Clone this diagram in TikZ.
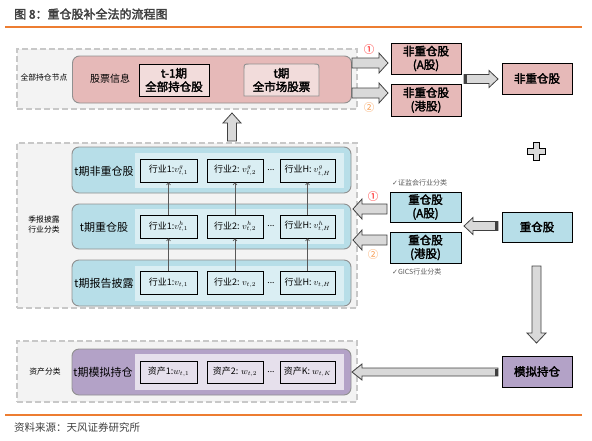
\documentclass[tikz,border=0pt]{standalone}
\usepackage{fontspec}
\setmainfont{Noto Sans CJK SC}[AutoFakeBold=2.5]
\newfontfamily\symfont{DejaVu Sans}
\usetikzlibrary{calc,arrows.meta}
\definecolor{orangeline}{HTML}{ED7D31}
\definecolor{titlegray}{HTML}{404040}
\definecolor{dashgray}{HTML}{C8C8C8}
\definecolor{boxbg}{HTML}{F3F3F3}
\definecolor{pinkfill}{HTML}{E6B9B8}
\definecolor{pinklight}{HTML}{F2DCDB}
\definecolor{bluefill}{HTML}{B7DEE8}
\definecolor{bluelight}{HTML}{DAEEF3}
\definecolor{purplefill}{HTML}{B3A2C7}
\definecolor{purplelight}{HTML}{E6E0EC}
\definecolor{rowborder}{HTML}{909090}
\definecolor{arrowfill}{HTML}{D9D9D9}
\definecolor{arrowline}{HTML}{404040}
\definecolor{circred}{HTML}{FF0000}
\definecolor{circorange}{HTML}{F79646}
\definecolor{notegray}{HTML}{595959}
\newcommand{\blockarrow}[5]{%
  \coordinate (bah) at ($(#2)!#5!(#1)$);
  \draw[barrowstyle] ($(#1)!#3!90:(#2)$) -- ($(bah)!#3!90:(#2)$) -- ($(bah)!#4!90:(#2)$) -- (#2)
    -- ($(bah)!#4!-90:(#2)$) -- ($(bah)!#3!-90:(#2)$) -- ($(#1)!#3!-90:(#2)$) -- cycle;}
\newcommand{\tailcap}[3]{\draw[line width=#3, draw=arrowline] (#1) -- ($(#1)!3pt!(#2)$);}
\newcommand{\cellrow}[3]{%
  \node[cell] (#1a) at (168.5,#2) {行业1:$v#3_{t,1}$};
  \node[cell, minimum width=56pt] (#1b) at (235,#2) {行业2: $v#3_{t,2}$};
  \node[cell, minimum width=55pt] (#1c) at (307.5,#2) {行业H: $v#3_{t,H}$};
  \node[font=\fontsize{8.5}{10}\selectfont] (#1d) at (271,#2) {...};}
\begin{document}
\begin{tikzpicture}[x=1pt,y=-1pt,
  outerbox/.style={draw=dashgray, line width=1.3pt, dash pattern=on 6pt off 3pt, fill=boxbg, inner sep=0pt},
  rowbox/.style={rounded corners=7pt, draw=rowborder, line width=0.9pt, inner sep=0pt, minimum width=279pt},
  innerbox/.style={draw=none, inner sep=0pt, minimum width=209pt},
  cell/.style={draw=black, line width=0.8pt, inner sep=0pt, minimum width=57pt, minimum height=23pt, font=\fontsize{9}{10}\selectfont},
  bigbox/.style={draw=black, line width=0.9pt, inner sep=0pt, minimum width=70pt, minimum height=31pt, align=center, font=\bfseries\fontsize{11.5}{13.5}\selectfont},
  sidelabel/.style={font=\fontsize{7.8}{10}\selectfont, align=center, text=black},
  rowlabel/.style={font=\fontsize{11}{13}\selectfont},
  barrowstyle/.style={fill=arrowfill, draw=arrowline, line width=0.8pt, line join=miter},
  thinarrow/.style={draw=notegray, line width=0.6pt, -{Straight Barb[length=2pt,width=4pt]}},
  note/.style={font=\fontsize{7}{9}\selectfont, text=notegray, anchor=west, inner sep=0pt},
  circ/.style={font=\fontsize{10.5}{12}\selectfont, inner sep=0pt}
]
\useasboundingbox (0,0) rectangle (592,440);
% title and source
\node[anchor=west, inner sep=0pt, text=titlegray, font=\bfseries\fontsize{12}{14}\selectfont] (title) at (14,14) {图 8：重仓股补全法的流程图};
\draw[orangeline, line width=2pt] (5,27) -- (582,27);
\draw[orangeline, line width=2pt] (5,415) -- (582,415);
\node[anchor=west, inner sep=0pt, text=titlegray, font=\fontsize{10.5}{12}\selectfont] (source) at (14,427) {资料来源：天风证券研究所};

% ---------- top block ----------
\node[outerbox, minimum width=340pt, minimum height=60pt] (o1) at (187,79) {};
\node[sidelabel] (l1) at (44,77) {全部持仓节点};
\node[rowbox, fill=pinkfill, minimum height=47pt] (r0) at (212,79.5) {};
\node[font=\fontsize{10}{12}\selectfont] (gp) at (110,79) {股票信息};
\node[bigbox, fill=pinklight, minimum width=70pt, minimum height=32pt] (t1) at (174,80) {t-1期\\全部持仓股};
\draw[fill=pinklight, draw=rowborder, line width=0.9pt] (244,96) -- (244,70) .. controls (244,64) .. (250,64) -- (313,64) .. controls (319,64) .. (319,70) -- (319,96) -- cycle;
\node[align=center, inner sep=0pt, font=\bfseries\fontsize{11.5}{13.5}\selectfont, minimum width=75pt, minimum height=32pt] (tt) at (281.5,80) {t期\\全市场股票};

\node[bigbox, fill=pinkfill] (nA) at (426,58.5) {非重仓股\\(A股)};
\node[bigbox, fill=pinkfill, minimum height=32pt] (nH) at (426,100) {非重仓股\\(港股)};
\node[bigbox, fill=pinkfill] (nAll) at (537,78.5) {非重仓股};

\coordinate (a1s) at (352,63); \coordinate (a1e) at (388,63);
\coordinate (a2s) at (352,93); \coordinate (a2e) at (388,93);
\blockarrow{a1s}{a1e}{5pt}{10pt}{9pt}
\blockarrow{a2s}{a2e}{5pt}{10pt}{9pt}
\node[circ, text=circred] (c1) at (369,50) {①};
\node[circ, text=circorange] (c2) at (369,108) {②};
\coordinate (a3s) at (464,79); \coordinate (a3e) at (498,79);
\blockarrow{a3s}{a3e}{4.5pt}{8.5pt}{9pt}
\tailcap{a3s}{a3e}{8pt}

% plus sign
\draw[fill=arrowfill, draw=black, line width=0.8pt] (533.5,142.5) -- (539.5,142.5) -- (539.5,148.5) -- (545.5,148.5) -- (545.5,154.5) -- (539.5,154.5) -- (539.5,160.5) -- (533.5,160.5) -- (533.5,154.5) -- (527.5,154.5) -- (527.5,148.5) -- (533.5,148.5) -- cycle;

% up arrow
\coordinate (ups) at (232,141); \coordinate (upe) at (232,113);
\blockarrow{ups}{upe}{4.5pt}{9pt}{10pt}

% ---------- middle block ----------
\node[outerbox, minimum width=340pt, minimum height=165pt] (o2) at (187,225.5) {};
\node[sidelabel] (l2) at (44,225) {季报披露\\行业分类};
\node[rowbox, fill=bluefill, minimum height=46pt] (r1) at (211.5,170) {};
\node[rowbox, fill=bluefill, minimum height=45pt] (r2) at (211.5,226.5) {};
\node[rowbox, fill=bluefill, minimum height=46pt] (r3) at (211.5,283) {};
\node[innerbox, fill=bluelight, minimum height=35pt] (i1) at (239.5,170.5) {};
\node[innerbox, fill=bluelight, minimum height=35pt] (i2) at (239.5,226.5) {};
\node[innerbox, fill=bluelight, minimum height=35pt] (i3) at (239.5,283) {};
\node[rowlabel] (rl1) at (104,171) {t期非重仓股};
\node[rowlabel] (rl2) at (104,227) {t期重仓股};
\node[rowlabel] (rl3) at (104,283) {t期报告披露};
\cellrow{g}{170.5}{^{g}}
\cellrow{h}{226.5}{^{h}}
\cellrow{p}{283}{}
\draw[thinarrow] (pa) -- (ha);
\draw[thinarrow] (pb) -- (hb);
\draw[thinarrow] (pc) -- (hc);
\draw[thinarrow] (ha) -- (ga);
\draw[thinarrow] (hb) -- (gb);
\draw[thinarrow] (hc) -- (gc);

\node[bigbox, fill=bluefill, minimum width=71pt, minimum height=30pt] (zA) at (425.5,207) {重仓股\\(A股)};
\node[bigbox, fill=bluefill, minimum width=71pt, minimum height=31pt] (zH) at (425.5,247.5) {重仓股\\(港股)};
\node[bigbox, fill=bluefill, minimum height=30pt] (zAll) at (537,227) {重仓股};
\node[note] (n1) at (392,183) {{\symfont ✓}证监会行业分类};
\node[note] (n2) at (392,272) {{\symfont ✓}GICS行业分类};
\node[circ, text=circred] (c3) at (373,197) {①};
\node[circ, text=circorange] (c4) at (373,255) {②};
\coordinate (b1s) at (387,209); \coordinate (b1e) at (353,209);
\coordinate (b2s) at (387,240); \coordinate (b2e) at (353,240);
\blockarrow{b1s}{b1e}{5pt}{10pt}{9pt}
\blockarrow{b2s}{b2e}{5pt}{10pt}{9pt}
\coordinate (b3s) at (498,226); \coordinate (b3e) at (464,226);
\blockarrow{b3s}{b3e}{4.5pt}{8.5pt}{9pt}
\tailcap{b3s}{b3e}{8pt}

% down arrow
\coordinate (dns) at (536.5,266); \coordinate (dne) at (536.5,343);
\blockarrow{dns}{dne}{4.5pt}{9.5pt}{10pt}

% ---------- bottom block ----------
\node[outerbox, minimum width=340pt, minimum height=61pt] (o3) at (187,371.5) {};
\node[sidelabel] (l3) at (45,372) {资产分类};
\node[rowbox, fill=purplefill, minimum height=46pt] (r4) at (211.5,372) {};
\node[innerbox, fill=purplelight, minimum height=36pt] (i4) at (239.5,372) {};
\node[rowlabel] (rl4) at (103,372) {t期模拟持仓};
\node[cell, minimum height=22pt] (wa) at (168.5,372) {资产1:$w_{t,1}$};
\node[cell, minimum height=22pt, minimum width=56pt] (wb) at (235,372) {资产2: $w_{t,2}$};
\node[cell, minimum height=22pt, minimum width=55pt] (wc) at (307.5,372) {资产K: $w_{t,K}$};
\node[font=\fontsize{8.5}{10}\selectfont] (wd) at (271,372) {...};

\node[bigbox, fill=purplefill] (sim) at (537,371.5) {模拟持仓};
\coordinate (c5s) at (498,372); \coordinate (c5e) at (352,372);
\blockarrow{c5s}{c5e}{4pt}{8pt}{10pt}
\tailcap{c5s}{c5e}{7pt}
\end{tikzpicture}
\end{document}
